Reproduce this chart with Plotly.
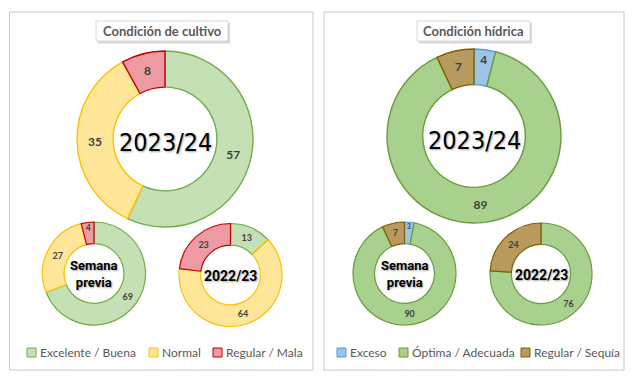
import plotly.graph_objects as go

W, H = 634, 381

# ---------------- data ----------------
cultivo_labels = ["Excelente / Buena", "Normal", "Regular / Mala"]
cultivo_2023 = [57, 35, 8]
cultivo_prev = [69, 27, 4]
cultivo_2022 = [13, 64, 23]

hidrica_labels = ["Exceso", "Óptima / Adecuada", "Regular / Sequía"]
hidrica_2023 = [4, 89, 7]
hidrica_prev = [3, 90, 7]
hidrica_2022 = [0, 76, 24]

titles = ["Condición de cultivo", "Condición hídrica"]
center_big = "2023/24"
center_prev = "Semana<br>previa"
center_old = "2022/23"

# ---------------- styles ----------------
cult_fill = ["#C5E0B4", "#FFE699", "#EE9AA3"]
cult_line = ["#70AD47", "#FFC000", "#C00000"]
hid_fill = ["#9DC3E6", "#A9D18E", "#B8995E"]
hid_line = ["#5B9BD5", "#6A9B3C", "#7F6000"]

TXT = "#404040"
FONT = "Lato, Liberation Sans, Arial, sans-serif"
CFONT = "DejaVu Sans Condensed, Roboto, sans-serif"
SFONT = "Roboto, DejaVu Sans, sans-serif"


def dom(cx, cy, r):
    return dict(x=[(cx - r) / W, (cx + r) / W], y=[1 - (cy + r) / H, 1 - (cy - r) / H])


fig = go.Figure()


def add_donut(labels, values, fills, lines, cx, cy, r, hole, fs, lw):
    fig.add_trace(go.Pie(
        labels=labels, values=values, sort=False, direction="clockwise", rotation=0,
        hole=hole, domain=dom(cx, cy, r),
        marker=dict(colors=fills, line=dict(color=lines, width=lw)),
        text=[str(v) if v > 0 else "" for v in values],
        textinfo="text", textposition="inside", insidetextorientation="horizontal",
        insidetextfont=dict(family=FONT, size=fs, color=TXT, weight="bold"),
        hoverinfo="label+value", showlegend=False,
    ))


add_donut(cultivo_labels, cultivo_2023, cult_fill, cult_line, 165, 139, 88, 0.59, 12, 1.4)
add_donut(cultivo_labels, cultivo_prev, cult_fill, cult_line, 94, 273.5, 51.5, 0.58, 9, 1.2)
add_donut(cultivo_labels, cultivo_2022, cult_fill, cult_line, 230.5, 275, 51.5, 0.58, 9, 1.2)
add_donut(hidrica_labels, hidrica_2023, hid_fill, hid_line, 474, 136, 87, 0.59, 12, 1.4)
add_donut(hidrica_labels, hidrica_prev, hid_fill, hid_line, 404.5, 273.5, 51.5, 0.58, 9, 1.2)
add_donut(hidrica_labels, hidrica_2022, hid_fill, hid_line, 541, 274, 51, 0.58, 9, 1.2)

shapes = []
annotations = []

# panel borders
for x0, x1 in [(9.5, 313), (324, 624)]:
    shapes.append(dict(type="rect", xref="x", yref="y", x0=x0, x1=x1, y0=12, y1=370,
                       line=dict(color="#C8C8C8", width=1), fillcolor="rgba(0,0,0,0)"))

# title boxes with shadow
for (x0, x1), t in zip([(96, 228), (417, 530)], titles):
    shapes.append(dict(type="rect", xref="x", yref="y", x0=x0 + 2, x1=x1 + 2, y0=23, y1=43.5,
                       line=dict(width=0), fillcolor="rgba(0,0,0,0.16)"))
    shapes.append(dict(type="rect", xref="x", yref="y", x0=x0, x1=x1, y0=21, y1=41,
                       line=dict(color="#D9D9D9", width=1), fillcolor="white"))
    annotations.append(dict(x=(x0 + x1) / 2, y=31, xref="x", yref="y", text=t, showarrow=False,
                            font=dict(family=FONT, size=13, color="#595959", weight="bold")))


def center_text(cx, cy, text, family, size, weight):
    annotations.append(dict(x=cx, y=cy, xref="x", yref="y", text=text, showarrow=False,
                            font=dict(family=family, size=size, color="black", weight=weight,
                                      shadow="1px 1px 2px rgba(0,0,0,0.35)")))


center_text(165, 142, center_big, CFONT, 25, "normal")
center_text(474, 140, center_big, CFONT, 25, "normal")
center_text(94, 274, center_prev, SFONT, 13, "bold")
center_text(230.5, 276, center_old, SFONT, 14, "bold")
center_text(404.5, 274, center_prev, SFONT, 13, "bold")
center_text(541, 275, center_old, SFONT, 14, "bold")

# legends
legend_items = [
    (cultivo_labels, cult_fill, cult_line, [27, 149, 213]),
    (hidrica_labels, hid_fill, hid_line, [337, 399, 521]),
]
for labels, fills, lines, xs in legend_items:
    for lab, f, l, x in zip(labels, fills, lines, xs):
        shapes.append(dict(type="rect", xref="x", yref="y", x0=x, x1=x + 9, y0=348, y1=357,
                           line=dict(color=l, width=1), fillcolor=f))
        annotations.append(dict(x=x + 10.5, y=352.5, xref="x", yref="y", text=lab, showarrow=False,
                                xanchor="left", font=dict(family=FONT, size=12, color="#595959")))

fig.update_layout(
    width=W, height=H, margin=dict(l=0, r=0, t=0, b=0),
    paper_bgcolor="white", plot_bgcolor="white",
    xaxis=dict(range=[0, W], visible=False, fixedrange=True),
    yaxis=dict(range=[H, 0], visible=False, fixedrange=True),
    shapes=shapes, annotations=annotations, showlegend=False,
)

fig.write_html("out.html", config={"displayModeBar": False},
               post_script="document.body.style.margin='0';document.body.style.padding='0';")
